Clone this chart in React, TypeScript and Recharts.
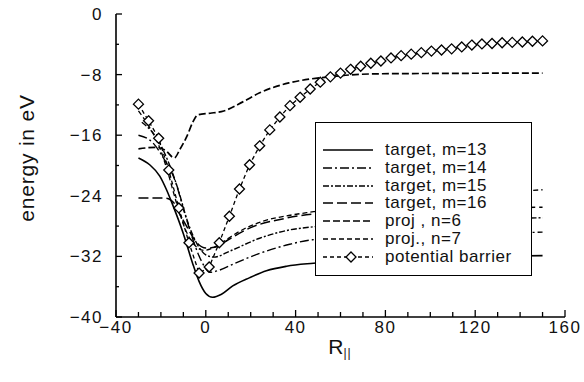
import React from 'react';
import { LineChart, Line, XAxis, YAxis, Legend, Label } from 'recharts';

// ---- axis ticks ----
const rTicks = [-40, -30, -20, -10, 0, 10, 20, 30, 40, 50, 60, 70, 80, 90, 100, 110, 120, 130, 140, 150, 160];
const eTicks = [-40, -36, -32, -28, -24, -20, -16, -12, -8, -4, 0];
const rLabelTicks = [-40, 0, 40, 80, 120, 160];
const eLabelTicks = [-40, -32, -24, -16, -8, 0];

// ---- series names ----
const seriesNames = [
  'target, m=13',
  'target, m=14',
  'target, m=15',
  'target, m=16',
  'proj , n=6',
  'proj., n=7',
  'potential barrier',
];

// ---- series values [R, energy] ----
const m13: [number, number][] = [
  [-30, -19.0], [-25, -19.9], [-20.5, -21.4], [-17.5, -23.2], [-15, -25.0], [-10, -29.0], [-6, -32.8],
  [-3, -35.3], [0, -36.9], [3, -37.4], [7, -37.0], [12, -35.9], [19.6, -34.8], [27, -33.9], [36, -33.3],
  [48, -32.9], [60, -32.6], [80, -32.3], [100, -32.1], [125, -32.0], [150, -31.9],
];
const m14: [number, number][] = [
  [-30, -16.0], [-23.6, -17.0], [-18.3, -19.3], [-13.8, -21.9], [-9.4, -26.3], [-4.9, -30.5], [-1.8, -32.7],
  [1.8, -34.1], [6.2, -33.8], [13, -32.9], [24, -31.6], [37.4, -30.4], [47.7, -29.8], [70, -29.5],
  [100, -29.2], [150, -28.8],
];
const m15: [number, number][] = [
  [-28.5, -14.3], [-21.4, -16.6], [-17, -19.3], [-12.5, -23.0], [-8, -27.5], [-3.6, -30.5], [0, -31.8],
  [3.6, -32.1], [10.7, -31.3], [24, -29.6], [37.4, -28.5], [47.7, -28.1], [70, -27.7], [100, -27.3],
  [150, -26.9],
];
const m16: [number, number][] = [
  [-30, -24.3], [-18, -24.3], [-14, -25.0], [-12, -26.2], [-8, -28.3], [-4, -30.2], [0, -30.9], [4, -30.8],
  [10, -29.8], [20, -28.2], [35, -27.0], [48, -26.4], [70, -26.1], [100, -25.8], [150, -25.5],
];
const n6: [number, number][] = [
  [-30, -17.8], [-22, -17.6], [-18, -18.0], [-14, -19.0], [-11.6, -17.9], [-8.5, -16.2], [-5.8, -14.3],
  [-3.5, -13.3], [2, -13.1], [8, -12.8], [16.5, -11.6], [24, -10.4], [37, -9.1], [46, -8.6], [55, -8.3],
  [64, -8.05], [76, -7.9], [100, -7.85], [150, -7.8],
];
const n7: [number, number][] = [
  [-30, -12.8], [-25, -15.0], [-21, -17.3], [-17, -20.8], [-13, -25.0], [-9, -28.5], [-5, -30.5],
  [-1, -31.2], [3, -30.9], [8, -30.0], [15, -28.7], [25, -27.4], [37, -26.6], [48, -26.1], [70, -25.2],
  [100, -24.3], [125, -23.7], [150, -23.2],
];
const barrierR = [
  -30, -25.5, -21, -16.5, -12, -7.5, -3, 1.5, 6, 10.5, 15, 19.5, 24, 28.5, 33, 37.5, 42, 46.5, 51, 55.5, 60,
  64.5, 69, 73.5, 78, 82.5, 87, 91.5, 96, 100.5, 105, 109.5, 114, 118.5, 123, 127.5, 132, 136.5, 141, 145.5, 150,
];
const barrierE = [
  -11.9, -14.1, -16.4, -20.6, -25.6, -30.2, -34.2, -33.4, -30.2, -26.7, -23.1, -19.9, -17.4, -15.3, -13.6,
  -12.1, -11.0, -9.9, -9.0, -8.3, -7.8, -7.3, -6.9, -6.5, -6.2, -5.8, -5.5, -5.3, -5.1, -4.9, -4.75, -4.6,
  -4.35, -4.1, -3.95, -3.9, -3.8, -3.75, -3.7, -3.6, -3.55,
];

const toRows = (pts: [number, number][]) => pts.map(([r, e]) => ({ r, e }));
const barrierRows = barrierR.map((r, i) => ({ r, e: barrierE[i] }));

const FONT = '"Liberation Sans", Arial, sans-serif';

const styles = [
  { dash: undefined as string | undefined, width: 1.6 },
  { dash: '9 3 2 3', width: 1.4 },
  { dash: '6 2 2 2', width: 1.4 },
  { dash: '10 4', width: 1.5 },
  { dash: '7 3', width: 1.7 },
  { dash: '5 3', width: 1.3 },
  { dash: '4 3', width: 1.3 },
];

const fmt = (v: number) => (v < 0 ? '\u2212' + Math.abs(v) : String(v));

const Diamond = ({ cx, cy }: { cx: number; cy: number }) => (
  <polygon
    points={`${cx},${cy - 5} ${cx + 5},${cy} ${cx},${cy + 5} ${cx - 5},${cy}`}
    fill="#fff"
    stroke="#000"
    strokeWidth={1.3}
  />
);

const XTick = (props: any) => {
  const { x, y, payload } = props;
  const v = payload.value as number;
  const major = rLabelTicks.includes(v);
  return (
    <g>
      <line x1={x} x2={x} y1={y} y2={y - (major ? 7 : 5)} stroke="#000" strokeWidth={1.3} />
      {major && (
        <text x={x} y={y + 16} textAnchor="middle" fontSize={17} letterSpacing={1.5} fontFamily={FONT} fill="#111">
          {fmt(v)}
        </text>
      )}
    </g>
  );
};

const YTick = (props: any) => {
  const { x, y, payload } = props;
  const v = payload.value as number;
  const major = eLabelTicks.includes(v);
  return (
    <g>
      <line x1={x} x2={x + (major ? 6 : 3)} y1={y} y2={y} stroke="#000" strokeWidth={1.3} />
      {major && (
        <text x={x - 13} y={y + 6} textAnchor="end" fontSize={17} letterSpacing={1.5} fontFamily={FONT} fill="#111">
          {fmt(v)}
        </text>
      )}
    </g>
  );
};

const LegendBox = () => (
  <div
    style={{
      width: 217,
      height: 154,
      border: '1.5px solid #000',
      boxSizing: 'border-box',
      background: '#fff',
      position: 'relative',
      fontFamily: FONT,
    }}
  >
    {seriesNames.map((name, i) => {
      const top = 27 + i * 17.8;
      const s = styles[i];
      return (
        <div key={name} style={{ position: 'absolute', left: 0, top: top - 10, height: 20, width: 215 }}>
          <svg width={60} height={20} style={{ position: 'absolute', left: 5, top: 0 }}>
            <line x1={2} x2={52} y1={10} y2={10} stroke="#000" strokeWidth={s.width} strokeDasharray={s.dash} />
            {i === 6 && <Diamond cx={30} cy={10} />}
          </svg>
          <span
            style={{
              position: 'absolute',
              left: 69,
              top: 0,
              lineHeight: '20px',
              fontSize: 17,
              letterSpacing: 0.5,
              color: '#111',
              whiteSpace: 'nowrap',
            }}
          >
            {name}
          </span>
        </div>
      );
    })}
  </div>
);

const series = [m13, m14, m15, m16, n6, n7];

export default function App() {
  return (
    <div style={{ position: 'absolute', left: 0, top: 0, width: 584, height: 382, background: '#fff' }}>
      <LineChart width={584} height={382} margin={{ top: 14, right: 19, bottom: 0, left: 0 }}>
        <XAxis
          type="number"
          dataKey="r"
          domain={[-40, 160]}
          ticks={rTicks}
          interval={0}
          tickSize={0}
          tickMargin={0}
          tickLine={false}
          tick={<XTick />}
          height={65}
          axisLine={{ stroke: '#000', strokeWidth: 1.6 }}
          allowDataOverflow
        >
          <Label
            content={() => (
              <text x={340} y={354} textAnchor="middle" fontFamily={FONT} fontSize={21} fill="#111">
                R
                <tspan fontSize={12} dy={3} letterSpacing={1}>
                  ||
                </tspan>
              </text>
            )}
          />
        </XAxis>
        <YAxis
          type="number"
          dataKey="e"
          domain={[-40, 0]}
          ticks={eTicks}
          interval={0}
          tickSize={0}
          tickMargin={0}
          tickLine={false}
          tick={<YTick />}
          width={116}
          axisLine={{ stroke: '#000', strokeWidth: 1.6 }}
          allowDataOverflow
        >
          <Label
            content={() => (
              <text
                x={26}
                y={158}
                transform="rotate(-90 26 158)"
                textAnchor="middle"
                dominantBaseline="central"
                fontFamily={FONT}
                fontSize={21}
                letterSpacing={0.8}
                fill="#111"
              >
                energy in eV
              </text>
            )}
          />
        </YAxis>
        {series.map((pts, i) => (
          <Line
            key={seriesNames[i]}
            name={seriesNames[i]}
            data={toRows(pts)}
            dataKey="e"
            type="monotone"
            stroke="#000"
            strokeWidth={styles[i].width}
            strokeDasharray={styles[i].dash}
            dot={false}
            activeDot={false}
            isAnimationActive={false}
          />
        ))}
        <Line
          name={seriesNames[6]}
          data={barrierRows}
          dataKey="e"
          type="linear"
          stroke="#000"
          strokeWidth={styles[6].width}
          strokeDasharray={styles[6].dash}
          dot={(p: any) => <Diamond key={`d${p.index}`} cx={p.cx} cy={p.cy} />}
          activeDot={false}
          isAnimationActive={false}
        />
        <Legend
          layout="vertical"
          align="center"
          verticalAlign="middle"
          content={() => <LegendBox />}
          wrapperStyle={{ position: 'absolute', left: 315, top: 122, width: 217, height: 154 }}
        />
      </LineChart>
    </div>
  );
}
